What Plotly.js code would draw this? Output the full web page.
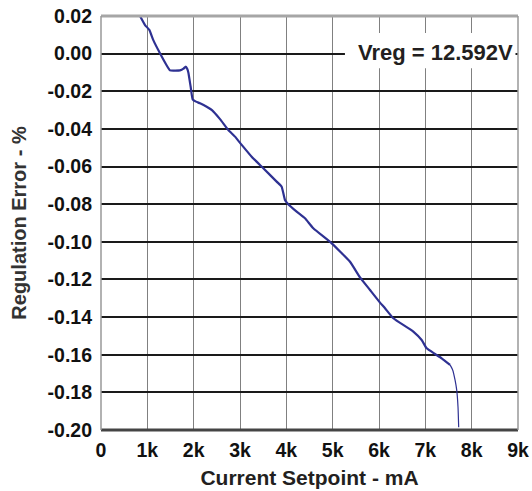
<!DOCTYPE html>
<html>
<head>
<meta charset="utf-8">
<script src="https://cdn.plot.ly/plotly-3.0.1.min.js"></script>
<style>html,body{margin:0;padding:0;background:#fff;}#chart{width:532px;height:491px;}</style>
</head>
<body>
<div id="chart"></div>
<script>
// Current setpoint (mA)
var currentMA = [842, 950, 1043, 1129, 1273, 1400, 1489, 1600, 1705, 1780, 1828, 1860, 1885, 1935, 1978, 2050, 2137, 2281, 2395, 2569, 2748, 2892, 3037, 3252, 3503, 3791, 3899, 3971, 4021, 4223, 4403, 4582, 4979, 5374, 5590, 5806, 6022, 6130, 6309, 6741, 6921, 7029, 7209, 7353, 7533];
// Regulation error (%)
var errorPct = [0.020, 0.0152, 0.0126, 0.0072, 0.0002, -0.0055, -0.0089, -0.0090, -0.0089, -0.0080, -0.0069, -0.0080, -0.0100, -0.0176, -0.0243, -0.0255, -0.0264, -0.0282, -0.0300, -0.0348, -0.0406, -0.0441, -0.0485, -0.0548, -0.0609, -0.0680, -0.0707, -0.0778, -0.0795, -0.0840, -0.0875, -0.0928, -0.1008, -0.1106, -0.1189, -0.1256, -0.1323, -0.1353, -0.1406, -0.1477, -0.1522, -0.1566, -0.1596, -0.1619, -0.1654];
// Steep tail
var tailCurrentMA = [7533, 7590, 7641, 7677, 7705, 7720];
var tailErrorPct = [-0.1654, -0.1681, -0.1734, -0.1787, -0.1876, -0.1985];

var xTickVals = [0, 1000, 2000, 3000, 4000, 5000, 6000, 7000, 8000, 9000];
var xTickLabels = ["0", "1k", "2k", "3k", "4k", "5k", "6k", "7k", "8k", "9k"];
var yTickVals = [0.02, 0.00, -0.02, -0.04, -0.06, -0.08, -0.10, -0.12, -0.14, -0.16, -0.18, -0.20];
var yTickLabels = ["0.02", "0.00", "-0.02", "-0.04", "-0.06", "-0.08", "-0.10", "-0.12", "-0.14", "-0.16", "-0.18", "-0.20"];
var annotationText = "Vreg = 12.592V";

var lineColor = "#2e3192";
var fontFam = "Liberation Sans, Arial, sans-serif";

var traces = [
  {x: currentMA, y: errorPct, mode: "lines", line: {color: lineColor, width: 2.2, shape: "spline", smoothing: 0.4}, hoverinfo: "skip"},
  {x: tailCurrentMA, y: tailErrorPct, mode: "lines", line: {color: lineColor, width: 1.2, shape: "spline", smoothing: 0.5}, hoverinfo: "skip"}
];

var layout = {
  width: 532, height: 491,
  margin: {l: 101, r: 14, t: 16, b: 61},
  paper_bgcolor: "#fff", plot_bgcolor: "#fff",
  showlegend: false,
  font: {family: fontFam, color: "#000"},
  xaxis: {
    range: [0, 9000], tickmode: "array", tickvals: xTickVals, ticktext: xTickLabels,
    showgrid: true, gridcolor: "#808080", gridwidth: 1, zeroline: false,
    showline: false, ticks: "", ticklabelstandoff: 6,
    tickfont: {family: fontFam, size: 19.5, weight: "bold", color: "#111"},
    title: {text: "Current Setpoint - mA", font: {family: fontFam, size: 21, weight: "bold", color: "#231f20"}, standoff: 10}
  },
  yaxis: {
    range: [-0.2, 0.02], tickmode: "array", tickvals: yTickVals, ticktext: yTickLabels,
    showgrid: true, gridcolor: "#1a1a1a", gridwidth: 2, zeroline: false,
    showline: false, ticks: "", ticklabelstandoff: 8,
    tickfont: {family: fontFam, size: 19.5, weight: "bold", color: "#111"},
    title: {text: "Regulation Error - %", font: {family: fontFam, size: 20, weight: "bold", color: "#333"}, standoff: 15}
  },
  shapes: [
    {type: "rect", xref: "paper", yref: "paper", x0: 0.585, x1: 0.994, y0: 0.874, y1: 0.959, fillcolor: "#fff", line: {width: 0}, layer: "above"},
    {type: "line", xref: "paper", yref: "paper", x0: 0, x1: 1, y0: 1, y1: 1, line: {color: "#a6a6a6", width: 3}},
    {type: "line", xref: "paper", yref: "paper", x0: 0, x1: 1, y0: 0, y1: 0, line: {color: "#444", width: 3}},
    {type: "line", xref: "paper", yref: "paper", x0: 0, x1: 0, y0: 0, y1: 1, line: {color: "#999", width: 1.5}},
    {type: "line", xref: "paper", yref: "paper", x0: 1, x1: 1, y0: 0, y1: 1, line: {color: "#999", width: 1.5}}
  ],
  annotations: [
    {xref: "paper", yref: "paper", x: 0.801, y: 0.913, xanchor: "center", yanchor: "middle",
     text: annotationText, showarrow: false,
     font: {family: fontFam, size: 22, weight: "bold", color: "#231f20"}}
  ]
};

Plotly.newPlot("chart", traces, layout, {staticPlot: true, displayModeBar: false});
</script>
</body>
</html>
